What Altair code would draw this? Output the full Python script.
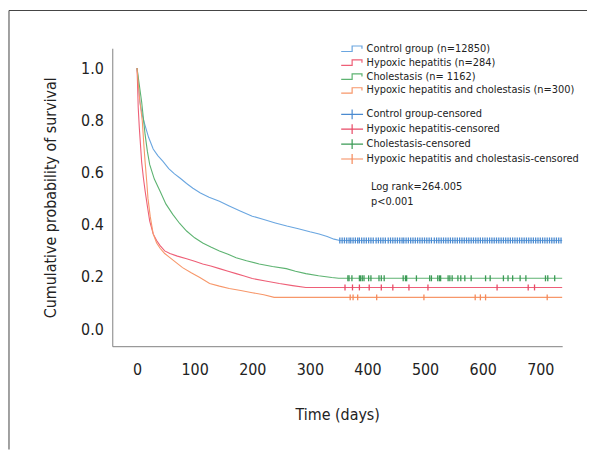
import altair as alt
import pandas as pd

FONT = "Liberation Sans Narrow, DejaVu Sans Condensed, Roboto Condensed, sans-serif"

groups = ["Control group (n=12850)", "Hypoxic hepatitis (n=284)",
          "Cholestasis (n= 1162)", "Hypoxic hepatitis and cholestasis (n=300)"]
cgroups = ["Control group-censored", "Hypoxic hepatitis-censored",
           "Cholestasis-censored", "Hypoxic hepatitis and cholestasis-censored"]
line_colors = ["#6aa6e0", "#ee5f77", "#5db371", "#f7976a"]
tick_colors = ["#4a8ad0", "#e84a66", "#3a9a55", "#f58a5a"]

# Kaplan-Meier curve points (days, survival)
ctrl_t = [0, 2, 5, 9, 14, 20, 28, 36, 45, 55, 65, 75, 86, 97, 110, 125, 143, 160, 180,
          200, 220, 240, 260, 280, 300, 316, 330, 342, 352, 738]
ctrl_s = [1.0, 0.95, 0.87, 0.82, 0.78, 0.735, 0.69, 0.665, 0.643, 0.615, 0.595, 0.578,
          0.558, 0.54, 0.522, 0.505, 0.49, 0.472, 0.452, 0.433, 0.42, 0.407, 0.395,
          0.385, 0.373, 0.365, 0.355, 0.345, 0.34, 0.34]
hh_t = [0, 1, 2, 4, 8, 11, 14, 18, 22, 28, 34, 40, 48, 57, 70, 86, 100, 114, 128, 143,
        158, 172, 186, 200, 223, 247, 270, 293, 738]
hh_s = [1.0, 0.93, 0.85, 0.77, 0.64, 0.58, 0.53, 0.47, 0.414, 0.365, 0.34, 0.32, 0.30,
        0.29, 0.28, 0.27, 0.26, 0.25, 0.242, 0.232, 0.222, 0.213, 0.204, 0.194, 0.185,
        0.175, 0.167, 0.16, 0.16]
ch_t = [0, 3, 8, 14, 18, 22, 30, 40, 50, 62, 74, 86, 100, 114, 128, 143, 158, 172, 190,
        212, 235, 259, 275, 293, 315, 338, 350, 738]
ch_s = [1.0, 0.95, 0.87, 0.745, 0.68, 0.63, 0.575, 0.528, 0.48, 0.44, 0.405, 0.376,
        0.35, 0.33, 0.315, 0.30, 0.287, 0.274, 0.262, 0.25, 0.24, 0.232, 0.222, 0.213,
        0.205, 0.198, 0.195, 0.195]
hc_t = [0, 2, 5, 9, 12, 14, 17, 19, 23, 28, 34, 40, 48, 57, 68, 79, 94, 109, 126, 143,
        160, 180, 200, 220, 238, 738]
hc_s = [1.0, 0.94, 0.87, 0.80, 0.70, 0.64, 0.56, 0.50, 0.43, 0.365, 0.33, 0.31, 0.29,
        0.274, 0.255, 0.236, 0.216, 0.198, 0.175, 0.165, 0.156, 0.148, 0.14, 0.132,
        0.122, 0.122]

# censored times
ctrl_c = [352, 356, 360, 364, 368, 371, 375, 379, 383, 386, 390, 394, 398, 402, 406, 410,
          415, 419, 423, 427, 431, 436, 440, 444, 448, 452, 456, 460, 463, 467, 471, 475,
          479, 483, 487, 491, 495, 499, 503, 507, 511, 516, 520, 524, 528, 532, 536, 540,
          544, 548, 552, 556, 560, 564, 568, 572, 576, 580, 584, 588, 592, 596, 600, 604,
          608, 612, 616, 620, 624, 628, 632, 636, 640, 644, 648, 652, 656, 660, 664, 668,
          672, 676, 680, 684, 688, 692, 696, 700, 704, 708, 712, 716, 720, 724, 728, 732, 736]
hh_c = [361, 374, 386, 403, 424, 444, 472, 505, 625, 679, 690]
ch_c = [366, 368, 373, 386, 388, 391, 394, 402, 406, 420, 424, 429, 462, 466, 468, 485,
        508, 511, 522, 525, 527, 540, 543, 547, 557, 562, 569, 580, 605, 613, 636, 644,
        652, 665, 675, 709, 713, 725]
hc_c = [370, 375, 383, 416, 498, 587, 596, 605, 712]

curves = []
for g, ts, ss in zip(groups, [ctrl_t, hh_t, ch_t, hc_t], [ctrl_s, hh_s, ch_s, hc_s]):
    for t, s in zip(ts, ss):
        curves.append({"group": g, "day": t, "surv": s})
curves = pd.DataFrame(curves)

cens = []
for g, cs, lvl in zip(cgroups, [ctrl_c, hh_c, ch_c, hc_c], [0.34, 0.16, 0.195, 0.122]):
    for t in cs:
        cens.append({"cgroup": g, "day": t, "surv": lvl})
cens = pd.DataFrame(cens)

xs = alt.Scale(domain=[-43, 738], nice=False, zero=False)
ys = alt.Scale(domain=[-0.065, 1.076], nice=False, zero=False)

STEP = "M-2,0.5H0V-0.5H1.8V0"
CROSS = "M-2,0H2M0,-0.9V0.9"

lines = alt.Chart(curves).mark_line(interpolate="linear", strokeWidth=1.1).encode(
    x=alt.X("day:Q", scale=xs, title="Time (days)",
            axis=alt.Axis(values=[0, 100, 200, 300, 400, 500, 600, 700])),
    y=alt.Y("surv:Q", scale=ys, title="Cumulative probability of survival",
            axis=alt.Axis(values=[0, 0.2, 0.4, 0.6, 0.8, 1.0], format=".1f")),
    color=alt.Color("group:N", scale=alt.Scale(domain=groups, range=line_colors),
                    legend=alt.Legend(title=None, orient="none", legendX=235, legendY=-6,
                                      symbolType=STEP, symbolSize=121, symbolStrokeWidth=1.2,
                                      labelOffset=8, padding=0, rowPadding=2,
                                      labelFontSize=11, labelFont=FONT, labelLimit=400,
                                      labelColor="#222")),
)

ticks = alt.Chart(cens).mark_point(shape="M0,-1V1", filled=False, size=36, strokeWidth=1.3,
                                   opacity=1).encode(
    x=alt.X("day:Q", scale=xs),
    y=alt.Y("surv:Q", scale=ys),
    color=alt.Color("cgroup:N", scale=alt.Scale(domain=cgroups, range=tick_colors),
                    legend=alt.Legend(title=None, orient="none", legendX=235, legendY=60,
                                      symbolType=CROSS, symbolSize=121, symbolStrokeWidth=1.2,
                                      labelOffset=8, padding=0, rowPadding=0,
                                      labelFontSize=11, labelFont=FONT, labelLimit=400,
                                      labelColor="#222")),
)

notes = pd.DataFrame({"day": [406, 406], "surv": [0.544, 0.487],
                      "txt": ["Log rank=264.005", "p<0.001"]})
note = alt.Chart(notes).mark_text(align="left", baseline="middle", fontSize=11, font=FONT,
                                  color="#222").encode(
    x=alt.X("day:Q", scale=xs), y=alt.Y("surv:Q", scale=ys), text="txt:N")

frame_top = alt.Chart(pd.DataFrame({"a": [0]})).mark_rule(color="#444", strokeWidth=1).encode(
    x=alt.value(-104), x2=alt.value(478), y=alt.value(-38))
frame_left = alt.Chart(pd.DataFrame({"a": [0]})).mark_rule(color="#444", strokeWidth=1).encode(
    x=alt.value(-104), y=alt.value(-38), y2=alt.value(404))

chart = alt.layer(frame_top, frame_left, lines, ticks, note).resolve_scale(
    color="independent"
).properties(
    width=453, height=300, padding=0
).configure_view(stroke=None).configure_axis(
    grid=False, ticks=False, domainColor="#808080", domainWidth=1,
    labelFont=FONT, titleFont=FONT, labelFontSize=16, titleFontSize=16,
    labelColor="#222", titleColor="#222", titleFontWeight="normal"
).configure_axisY(labelPadding=9, titlePadding=22).configure_axisX(
    labelPadding=16, titlePadding=29)

chart.save("out.html", embed_options={"renderer": "svg", "actions": False})
